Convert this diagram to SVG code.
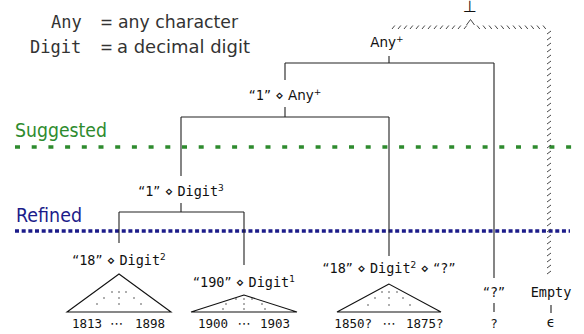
<svg xmlns="http://www.w3.org/2000/svg" width="584" height="334" viewBox="0 0 584 334">
<style>
.e{stroke:#222;stroke-width:1.1;fill:none}
.tri{stroke:#111;stroke-width:1.1;fill:none}
.lab{font-family:"DejaVu Sans",sans-serif;font-size:13.5px;fill:#111;text-anchor:middle}
.leg{font-family:"DejaVu Sans",sans-serif;font-size:18px;fill:#333}
.legm{font-family:"DejaVu Sans Mono",monospace;font-size:17px;fill:#333}
.m{font-family:"DejaVu Sans Mono",monospace}
.num{font-family:"DejaVu Sans Mono",monospace;font-size:12.5px;fill:#111}
.dots{font-family:"DejaVu Sans",sans-serif;font-size:13px;fill:#111;text-anchor:middle}
.sup{font-size:9px}
.dot{fill:#222}
.h{stroke:#333;stroke-width:0.9;fill:none}
</style>
<rect width="584" height="334" fill="#fff"/>
<g id="legend">
<text class="legm" x="51" y="28">Any</text>
<text class="leg" x="100" y="28" textLength="13" lengthAdjust="spacingAndGlyphs">=</text>
<text class="leg" x="118" y="28" textLength="120" lengthAdjust="spacingAndGlyphs">any character</text>
<text class="legm" x="30" y="53">Digit</text>
<text class="leg" x="100" y="53" textLength="13" lengthAdjust="spacingAndGlyphs">=</text>
<text class="leg" x="117" y="53" textLength="133" lengthAdjust="spacingAndGlyphs">a decimal digit</text>
</g>
<g id="levels">
<text x="15" y="137" font-family="DejaVu Sans, sans-serif" font-size="20" fill="#2e8b2e" textLength="92" lengthAdjust="spacingAndGlyphs">Suggested</text>
<line x1="15" y1="147" x2="572" y2="147" stroke="#2e8b2e" stroke-width="3.4" stroke-dasharray="5 11.7"/>
<text x="16" y="222" font-family="DejaVu Sans, sans-serif" font-size="19" fill="#1c1c8a" textLength="66" lengthAdjust="spacingAndGlyphs">Refined</text>
<line x1="15" y1="231" x2="570" y2="231" stroke="#1c1c8a" stroke-width="3.6" stroke-dasharray="4 2.67"/>
</g>
<g id="bottom">
<text x="470" y="12" font-family="DejaVu Sans, sans-serif" font-size="16" fill="#111" text-anchor="middle">⊥</text>
<polyline class="h" points="466.5,25 470.5,19.5 474.5,25"/>
<path class="h" d="M392 29l2.8-3.5m3.2 3.5l2.8-3.5m3.2 3.5l2.8-3.5m3.2 3.5l2.8-3.5m3.2 3.5l2.8-3.5m3.2 3.5l2.8-3.5m3.2 3.5l2.8-3.5m3.2 3.5l2.8-3.5m3.2 3.5l2.8-3.5m3.2 3.5l2.8-3.5m3.2 3.5l2.8-3.5m3.2 3.5l2.8-3.5m3.2 3.5l2.8-3.5"/>
<path class="h" d="M477 25.5l2.8 3.5m3.2-3.5l2.8 3.5m3.2-3.5l2.8 3.5m3.2-3.5l2.8 3.5m3.2-3.5l2.8 3.5m3.2-3.5l2.8 3.5m3.2-3.5l2.8 3.5m3.2-3.5l2.8 3.5m3.2-3.5l2.8 3.5m3.2-3.5l2.8 3.5m3.2-3.5l2.8 3.5m3.2-3.5l2.8 3.5"/>
<path class="h" d="M547 34l4-3m-4 9l4-3m-4 9l4-3m-4 9l4-3m-4 9l4-3m-4 9l4-3m-4 9l4-3m-4 9l4-3m-4 9l4-3m-4 9l4-3m-4 9l4-3m-4 9l4-3m-4 9l4-3m-4 9l4-3m-4 9l4-3m-4 9l4-3m-4 9l4-3m-4 9l4-3m-4 9l4-3m-4 9l4-3m-4 9l4-3m-4 9l4-3m-4 9l4-3m-4 9l4-3m-4 9l4-3m-4 9l4-3m-4 9l4-3m-4 9l4-3m-4 9l4-3m-4 9l4-3m-4 9l4-3m-4 9l4-3m-4 9l4-3m-4 9l4-3m-4 9l4-3m-4 9l4-3m-4 9l4-3m-4 9l4-3m-4 9l4-3m-4 9l4-3m-4 9l4-3"/>
</g>
<g id="connectors">
<path class="e" d="M389 56V63M285 63H494M285 63V80M494 63V278M285 107V117M181 117H389M181 117V176M389 117V256M181 203V212M119 212H244M119 212V243M244 212V265M494 303V312M551 305V313"/>
</g>
<g id="n-root"><text class="lab" x="387" y="47">Any<tspan class="sup" dy="-5">+</tspan></text></g>
<g id="n-1any"><text class="lab" x="285" y="100">“<tspan class="m">1</tspan>” ⋄ Any<tspan class="sup" dy="-5">+</tspan></text></g>
<g id="n-1digit3"><text class="lab" x="181" y="196">“<tspan class="m">1</tspan>” ⋄ <tspan class="m">Digit</tspan><tspan class="sup" dy="-5">3</tspan></text></g>
<g id="n-18digit2">
<text class="lab" x="119" y="265">“<tspan class="m">18</tspan>” ⋄ <tspan class="m">Digit</tspan><tspan class="sup" dy="-5">2</tspan></text>
<path class="tri" d="M119 274L67 312H171Z"/>
<g class="dot"><circle cx="112" cy="292" r="0.7"/><circle cx="119" cy="292" r="0.7"/><circle cx="126" cy="292" r="0.7"/><circle cx="104" cy="298" r="0.7"/><circle cx="119" cy="298" r="0.7"/><circle cx="134" cy="298" r="0.7"/><circle cx="97" cy="304" r="0.7"/><circle cx="119" cy="304" r="0.7"/><circle cx="141" cy="304" r="0.7"/></g>
<text class="num" x="102" y="328" text-anchor="end">1813</text><text class="dots" x="116.5" y="328">⋯</text><text class="num" x="135" y="328">1898</text>
</g>
<g id="n-190digit1">
<text class="lab" x="244" y="287">“<tspan class="m">190</tspan>” ⋄ <tspan class="m">Digit</tspan><tspan class="sup" dy="-5">1</tspan></text>
<path class="tri" d="M244 295L191 312H297Z"/>
<g class="dot"><circle cx="236" cy="299" r="0.7"/><circle cx="244" cy="299" r="0.7"/><circle cx="252" cy="299" r="0.7"/><circle cx="226" cy="304" r="0.7"/><circle cx="244" cy="304" r="0.7"/><circle cx="262" cy="304" r="0.7"/><circle cx="223" cy="309" r="0.7"/><circle cx="244" cy="309" r="0.7"/><circle cx="265" cy="309" r="0.7"/></g>
<text class="num" x="228" y="328" text-anchor="end">1900</text><text class="dots" x="244" y="328">⋯</text><text class="num" x="260" y="328">1903</text>
</g>
<g id="n-18digit2q">
<text class="lab" x="389" y="273">“<tspan class="m">18</tspan>” ⋄ <tspan class="m">Digit</tspan><tspan class="sup" dy="-5">2</tspan><tspan dy="5"> ⋄ “</tspan><tspan class="m">?</tspan>”</text>
<path class="tri" d="M389 284L337 312H441Z"/>
<g class="dot"><circle cx="382" cy="292" r="0.7"/><circle cx="389" cy="292" r="0.7"/><circle cx="397" cy="292" r="0.7"/><circle cx="375" cy="298" r="0.7"/><circle cx="389" cy="298" r="0.7"/><circle cx="403" cy="298" r="0.7"/><circle cx="368" cy="305" r="0.7"/><circle cx="389" cy="305" r="0.7"/><circle cx="410" cy="305" r="0.7"/></g>
<text class="num" x="372" y="328" text-anchor="end">1850?</text><text class="dots" x="389" y="328">⋯</text><text class="num" x="406" y="328">1875?</text>
</g>
<g id="n-q">
<text class="lab" x="494" y="297">“<tspan class="m">?</tspan>”</text>
<text class="num" x="494" y="328" text-anchor="middle">?</text>
</g>
<g id="n-empty">
<text class="lab m" x="551" y="297">Empty</text>
<text class="lab" x="551" y="327" font-family="DejaVu Serif, serif">ϵ</text>
</g>
</svg>
